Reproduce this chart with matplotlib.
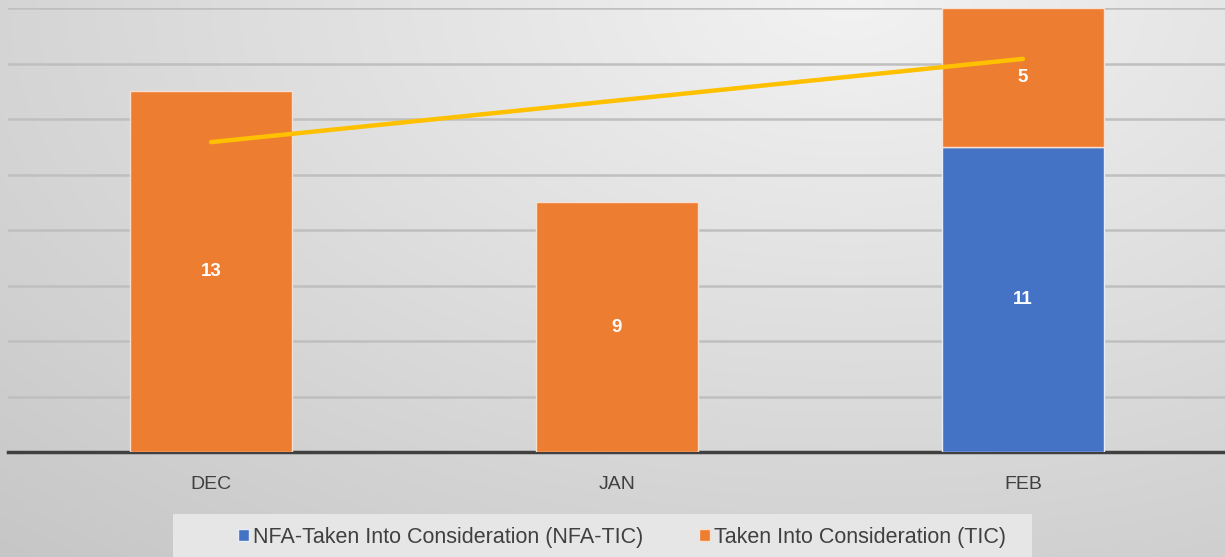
import numpy as np
import matplotlib
matplotlib.use("Agg")
import matplotlib.pyplot as plt
from matplotlib.patches import Rectangle, Patch

categories = ["DEC", "JAN", "FEB"]
nfa_tic = [0, 0, 11]
tic = [13, 9, 5]
series_names = ["NFA-Taken Into Consideration (NFA-TIC)", "Taken Into Consideration (TIC)"]

plt.rcParams['font.family'] = ['Liberation Sans', 'DejaVu Sans']

W, H = 1225, 557
fig = plt.figure(figsize=(W/100, H/100), dpi=100)

# background gradient
bg = fig.add_axes([0, 0, 1, 1], zorder=-10)
yy, xx = np.mgrid[0:H, 0:W]
d = np.sqrt(((xx - 850) / 1100.0) ** 2 + ((yy - 0) / 650.0) ** 2)
val = 0.95 - 0.15 * np.clip(d, 0, 1.2)
bg.imshow(np.dstack([val, val, val]), aspect='auto', extent=[0, 1, 0, 1], origin='upper')
bg.set_axis_off()

ax = fig.add_axes([8/W, (H-452)/H, (1226-8)/W, 444/H])
ax.set_facecolor('none')
x = np.arange(len(categories))
bw = 0.4
nfa = np.array(nfa_tic)
t = np.array(tic)
ax.bar(x, nfa, bw, color='#4472C4', edgecolor='#E8EEF8', linewidth=1, zorder=3)
ax.bar(x, t, bw, bottom=nfa, color='#ED7D31', edgecolor='#F8E0D0', linewidth=1, zorder=3)

for i in range(len(x)):
    if nfa[i] > 0:
        ax.text(x[i], nfa[i] / 2, str(nfa[i]), ha='center', va='center', color='white',
                fontsize=13.5, fontweight='bold', zorder=5)
    if t[i] > 0:
        ax.text(x[i], nfa[i] + t[i] / 2, str(t[i]), ha='center', va='center', color='white',
                fontsize=13.5, fontweight='bold', zorder=5)

totals = nfa + t
coef = np.polyfit(x, totals, 1)
ax.plot(x[[0, -1]], np.polyval(coef, x[[0, -1]]), color='#FFC000', linewidth=3.2,
        solid_capstyle='round', zorder=4)

ax.set_xlim(-0.5, 2.5)
ax.set_ylim(0, 16)
ax.set_yticks(np.arange(0, 17, 2))
ax.yaxis.grid(True, color='#BFBFBF', linewidth=1.8, zorder=0)
ax.set_axisbelow(True)
ax.tick_params(axis='y', left=False, labelleft=False)
ax.tick_params(axis='x', bottom=False, pad=14, labelsize=14, labelcolor='#404040')
ax.set_xticks(x)
ax.set_xticklabels(categories)
for s in ['top', 'right', 'left']:
    ax.spines[s].set_visible(False)
ax.spines['bottom'].set_color('#404040')
ax.spines['bottom'].set_linewidth(2.5)

# legend box
fig.patches.append(Rectangle((173/W, 0), (1032-173)/W, 43/H, transform=fig.transFigure,
                             facecolor='#E6E6E6', edgecolor='none', zorder=-5))
handles = [Patch(facecolor='#4472C4', edgecolor='#E8EEF8'), Patch(facecolor='#ED7D31', edgecolor='#F8E0D0')]
fig.legend(handles, series_names, loc='center', bbox_to_anchor=(622/W, 20/H), ncol=2,
           frameon=False, fontsize=15.5, labelcolor='#404040', handlelength=0.5, handleheight=0.5,
           handletextpad=0.2, columnspacing=2.6)

fig.savefig('out.png', dpi=100)
